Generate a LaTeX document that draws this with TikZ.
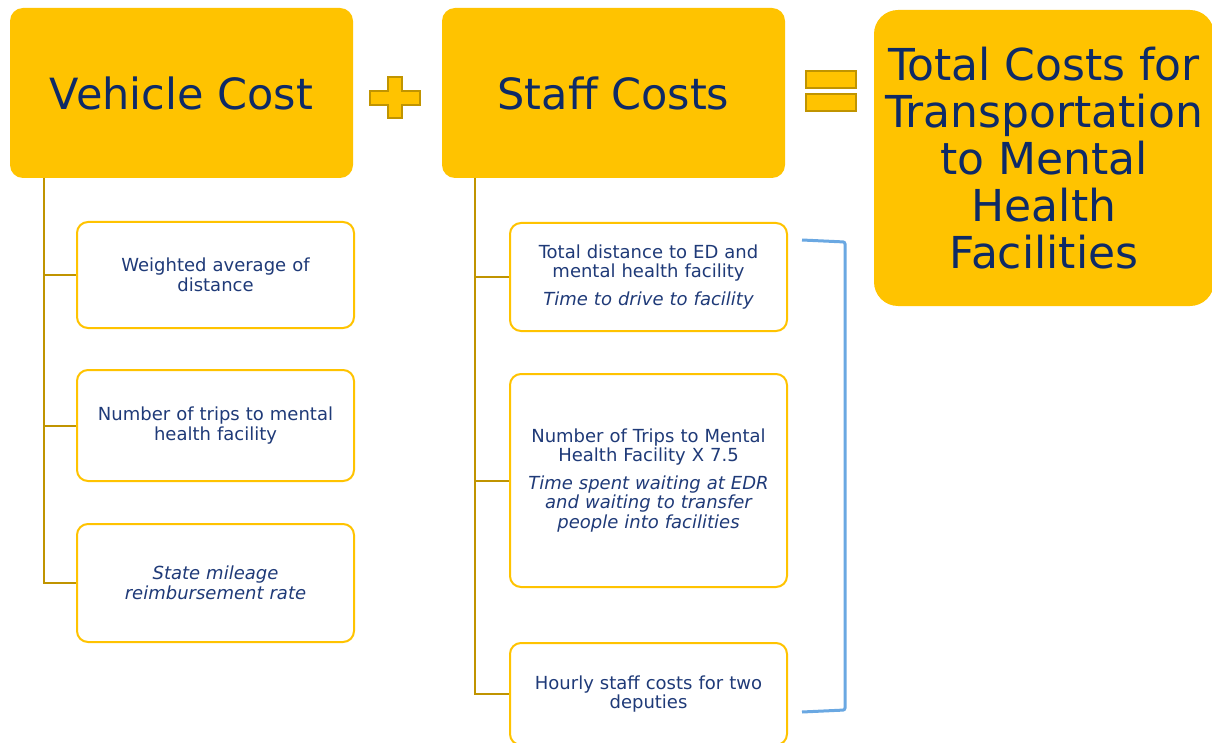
\documentclass[tikz,border=0pt]{standalone}
\usepackage{fontspec}
\setmainfont{DejaVu Sans}
\definecolor{gold}{HTML}{FFC300}
\definecolor{golddark}{HTML}{C09400}
\definecolor{navy}{HTML}{0E2A66}
\definecolor{navytwo}{HTML}{1F3A78}
\definecolor{bluebr}{HTML}{6AA8E2}
\tikzset{
  hdr/.style={fill=gold, draw=none, rounded corners=13pt, text=navy, align=center, inner sep=0pt,
     font=\fontsize{43}{47}\selectfont},
  leaf/.style={draw=gold, line width=2pt, fill=white, rounded corners=11pt, text=navytwo, align=center,
     inner sep=0pt, minimum width=277pt, text width=266pt, font=\fontsize{18}{19.5}\selectfont},
  conn/.style={draw=golddark, line width=2pt},
  brk/.style={draw=bluebr, line width=3pt, rounded corners=2pt},
  sym/.style={fill=gold, draw=golddark, line width=1.6pt}
}
\begin{document}
\begin{tikzpicture}[x=1pt,y=-1pt]
\useasboundingbox (0,0) rectangle (1212,743);
% headers
\node[hdr, minimum width=343pt, minimum height=170pt] (veh) at (181.5,93) {Vehicle Cost};
\node[hdr, minimum width=343pt, minimum height=170pt] (staff) at (613.5,93) {Staff Costs};
\node[hdr, rounded corners=24pt, minimum width=340pt, minimum height=296pt,
  font=\fontsize{44}{47}\selectfont] (tot) at (1044,158)
  {Total Costs for\\Transportation\\to Mental\\Health\\Facilities};
% plus sign
\draw[sym] (388,77) -- (402,77) -- (402,91) -- (420,91) -- (420,105) -- (402,105) -- (402,118)
  -- (388,118) -- (388,105) -- (370,105) -- (370,91) -- (388,91) -- cycle;
% equals sign
\draw[sym] (806,71) rectangle (856,88);
\draw[sym] (806,94) rectangle (856,111);
% vehicle leaves
\node[leaf, minimum height=106pt] (v1) at (215.5,275) {Weighted average of\\distance};
\node[leaf, minimum height=111pt] (v2) at (215.5,425.5) {Number of trips to mental\\health facility};
\node[leaf, minimum height=118pt] (v3) at (215.5,583) {\itshape State mileage\\reimbursement rate};
% staff leaves
\node[leaf, minimum height=108pt] (s1) at (648.5,277) {Total distance to ED and\\mental health facility\\[8pt]\itshape Time to drive to facility};
\node[leaf, minimum height=213pt] (s2) at (648.5,480.5) {Number of Trips to Mental\\Health Facility X 7.5\\[8pt]\itshape Time spent waiting at EDR\\\itshape and waiting to transfer\\\itshape people into facilities};
\node[leaf, minimum height=102pt] (s3) at (648.5,694) {Hourly staff costs for two\\deputies};
% connectors
\coordinate (vt) at (44,178);
\draw[conn] (vt) |- (v3.west);
\draw[conn] (vt |- v1.west) -- (v1.west);
\draw[conn] (vt |- v2.west) -- (v2.west);
\coordinate (st) at (475,178);
\draw[conn] (st) |- (s3.west);
\draw[conn] (st |- s1.west) -- (s1.west);
\draw[conn] (st |- s2.west) -- (s2.west);
% bracket
\coordinate (b1) at (802,240);
\coordinate (b2) at (845,242);
\coordinate (b3) at (845,710);
\coordinate (b4) at (802,712);
\draw[brk] (b1) -- (b2) -- (b3) -- (b4);
\end{tikzpicture}
\end{document}
